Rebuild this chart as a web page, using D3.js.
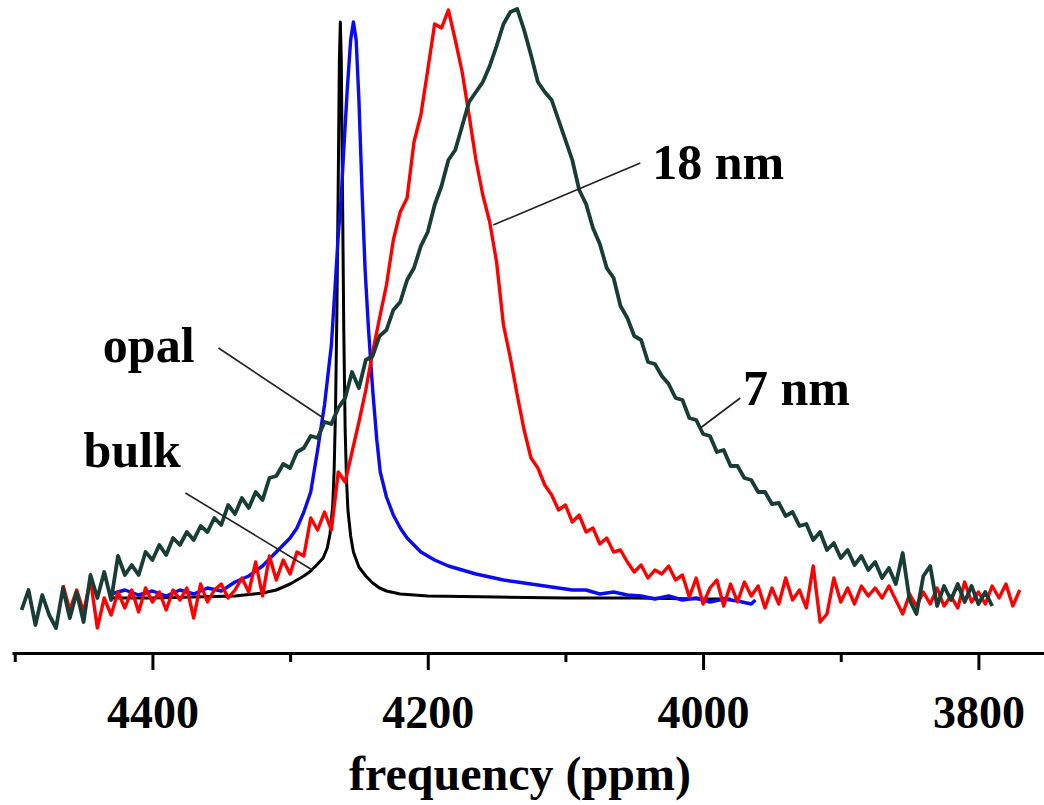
<!DOCTYPE html>
<html>
<head>
<meta charset="utf-8">
<script src="https://cdn.jsdelivr.net/npm/d3@7"></script>
<style>
    body { margin: 0; background: #fff; }
    svg { display: block; }
    text { font-family: "Liberation Serif", "Times New Roman", serif; font-weight: bold; fill: #000; }
</style>
</head>
<body>
<svg id="chart"></svg>
<script>
// spectra, intensity in arbitrary units, frequency in ppm
const gridStep = 5;

const sevenStart = 4495;
const sevenNm = [-10, 10, -25, 5, -15, -28, 12, -18, 8, -22,
    25, 2, 28, 0, 44, 25, 35, 25, 48, 40,
    55, 45, 62, 55, 68, 60, 74, 68, 82, 75,
    95, 86, 102, 92, 108, 100, 122, 124, 136, 132,
    148, 152, 164, 162, 178, 176, 192, 202, 228, 212,
    240, 244, 264, 270, 290, 298, 320, 332, 354, 368,
    395, 414, 440, 450, 474, 498, 508, 518, 534, 554,
    576, 588, 591, 570, 545, 518, 508, 500, 480, 460,
    440, 410, 396, 372, 356, 332, 322, 294, 282, 264,
    260, 238, 236, 224, 216, 202, 200, 182, 180, 166,
    164, 148, 150, 134, 134, 122, 120, 108, 108, 96,
    97, 84, 88, 74, 76, 60, 68, 50, 57, 42,
    50, 35, 44, 30, 38, 22, 32, 16, 47, 0,
    -14, 24, 34, -6, 14, 0, 16, -2, 14, -4,
    8, -6];

const eighteenStart = 4465;
const eighteenNm = [15, -10, 10, -12, 20, -28, 2, -15, 8, -8,
    10, -12, 12, -2, 8, -10, 10, 0, 12, -18,
    16, -2, 10, 16, 2, 10, 22, 8, 38, 4,
    44, 20, 40, 26, 48, 44, 82, 70, 88, 70,
    128, 118, 148, 178, 210, 248, 282, 315, 360, 388,
    402, 458, 485, 530, 576, 572, 590, 560, 528, 485,
    440, 405, 378, 338, 275, 242, 205, 170, 142, 132,
    115, 105, 90, 95, 78, 85, 68, 72, 56, 62,
    48, 50, 38, 28, 35, 22, 30, 26, 34, 20,
    25, 3, 22, -4, 12, 20, -6, 16, -2, 18,
    4, 14, -8, 12, -4, 22, 0, 10, -8, 34,
    -22, -14, 22, -2, 12, -4, 14, 4, 12, 2,
    14, 0, -14, 6, -6, 8, -4, 12, -6, 4,
    -8, 18, -2, 8, -4, 14, 2, 16, -6, 10];

const opal = [[4430, 6], [4420, 10], [4410, 5], [4400, 9], [4390, 4], [4380, 10], [4370, 6],
    [4360, 12], [4350, 9], [4340, 18], [4330, 24], [4320, 34], [4310, 48], [4300, 62],
    [4295, 72], [4290, 88], [4285, 108], [4280, 150], [4275, 195], [4270, 255], [4267, 320],
    [4265, 365], [4263, 400], [4261, 450], [4258.5, 510], [4256, 560], [4254, 578],
    [4252, 560], [4250, 500], [4247.5, 400], [4245.5, 330], [4243, 270], [4240, 210],
    [4237, 160], [4234.5, 128], [4230, 103], [4225, 85], [4220, 72], [4215, 62], [4210, 55],
    [4205, 48], [4195, 40], [4185, 34], [4175, 30], [4165, 26], [4155, 23], [4145, 20],
    [4135, 18], [4125, 16], [4115, 14], [4105, 12], [4095, 10], [4085, 10], [4075, 6],
    [4065, 8], [4055, 5], [4045, 4], [4035, 1], [4025, 4], [4015, 0], [4005, 2], [3995, -2],
    [3985, 1], [3975, -1], [3965, -4], [3962, 0]];

const bulk = [[4430, 2], [4400, 2], [4370, 3], [4340, 4], [4320, 7], [4310, 10], [4300, 16],
    [4295, 20], [4290, 24], [4285, 29], [4280, 36], [4276, 42], [4273, 52], [4271, 66],
    [4269, 95], [4268, 130], [4267, 190], [4266, 290], [4265, 420], [4264.2, 540],
    [4263.5, 578], [4262.8, 540], [4262, 420], [4261, 270], [4260, 170], [4259, 120],
    [4258, 90], [4256, 64], [4254, 48], [4250, 33], [4245, 24], [4240, 17], [4235, 12],
    [4230, 9], [4220, 6], [4200, 4], [4150, 3], [4100, 2], [4050, 2], [4000, 1], [3980, 1]];

const majorTicks = [4400, 4200, 4000, 3800];
const minorTicks = [4500, 4300, 4100, 3900];

// label text, label anchor [ppm, value], leader line from / to [ppm, value]
const labels = [
    { text: "opal", at: [4436, 238], from: [4352, 252], to: [4275.8, 182] },
    { text: "bulk", at: [4450, 133], from: [4376, 107], to: [4283.8, 30] },
    { text: "18 nm", at: [4037, 421], from: [4045.6, 437], to: [4152.4, 375] },
    { text: "7 nm", at: [3971, 195], from: [3973, 202], to: [4002, 172] }
];

const width = 1044, height = 805;
const svg = d3.select("#chart").attr("width", width).attr("height", height);

const x = d3.scaleLinear().domain([4502, 3752]).range([12, 1044.5]);
const y = d3.scaleLinear().domain([0, 590]).range([600, 10]);

const line = d3.line()
    .x(d => x(d[0]))
    .y(d => y(d[1]));

const series = [
    { data: bulk, color: "#000000", w: 3 },
    { data: opal, color: "#0a0af5", w: 3.4 },
    { data: eighteenNm.map((v, i) => [eighteenStart - i * gridStep, v]), color: "#ff0000", w: 3.4 },
    { data: sevenNm.map((v, i) => [sevenStart - i * gridStep, v]), color: "#173d36", w: 3.8 }
];

svg.selectAll(".spec")
    .data(series)
    .enter().append("path")
    .attr("class", "spec")
    .attr("fill", "none")
    .attr("stroke", d => d.color)
    .attr("stroke-width", d => d.w)
    .attr("stroke-linejoin", "round")
    .attr("d", d => line(d.data));

const axisY = 653;

const major = svg.append("g")
    .attr("transform", `translate(0,${axisY})`)
    .call(d3.axisBottom(x).tickValues(majorTicks).tickSize(17).tickSizeOuter(0).tickFormat(d3.format("d")));
major.select(".domain").attr("stroke-width", 3);
major.selectAll(".tick line").attr("stroke-width", 3);
major.selectAll(".tick text")
    .attr("y", 75)
    .attr("dy", 0)
    .style("font-size", "46px")
    .style("font-family", "'Liberation Serif', 'Times New Roman', serif")
    .style("font-weight", "bold");

const minor = svg.append("g")
    .attr("transform", `translate(0,${axisY})`)
    .call(d3.axisBottom(x).tickValues(minorTicks).tickSize(9).tickSizeOuter(0).tickFormat(""));
minor.select(".domain").remove();
minor.selectAll(".tick line").attr("stroke-width", 3);

svg.append("text")
    .attr("x", 520)
    .attr("y", 790)
    .attr("text-anchor", "middle")
    .style("font-size", "48px")
    .text("frequency (ppm)");

svg.selectAll(".leader")
    .data(labels)
    .enter().append("line")
    .attr("class", "leader")
    .attr("x1", d => x(d.from[0]))
    .attr("y1", d => y(d.from[1]))
    .attr("x2", d => x(d.to[0]))
    .attr("y2", d => y(d.to[1]))
    .attr("stroke", "#222")
    .attr("stroke-width", 1.6);

svg.selectAll(".lbl")
    .data(labels)
    .enter().append("text")
    .attr("class", "lbl")
    .attr("x", d => x(d.at[0]))
    .attr("y", d => y(d.at[1]))
    .style("font-size", "50px")
    .text(d => d.text);
</script>
</body>
</html>
